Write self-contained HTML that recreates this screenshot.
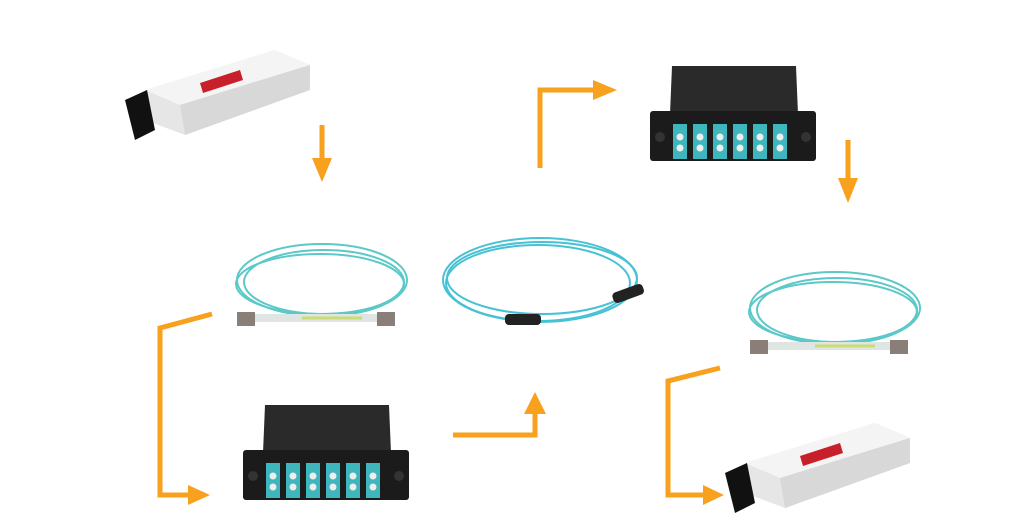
<!DOCTYPE html>
<html><head><style>html,body{margin:0;padding:0;background:#fff;width:1024px;height:530px;overflow:hidden}</style></head>
<body>
<svg width="1024" height="530" viewBox="0 0 1024 530" xmlns="http://www.w3.org/2000/svg">
<defs>
<g id="cas">
  <polygon points="22,0 146,0 148,48 20,48" fill="#2a2a2a"/>
  <rect x="0" y="45" width="166" height="50" rx="3" fill="#1b1b1b"/>
  <circle cx="10" cy="71" r="5" fill="#333"/>
  <circle cx="156" cy="71" r="5" fill="#333"/>
  <g fill="#3fb5bd">
    <rect x="23" y="58" width="14" height="35"/><rect x="43" y="58" width="14" height="35"/>
    <rect x="63" y="58" width="14" height="35"/><rect x="83" y="58" width="14" height="35"/>
    <rect x="103" y="58" width="14" height="35"/><rect x="123" y="58" width="14" height="35"/>
  </g>
  <g fill="#eee">
    <circle cx="30" cy="71" r="3.5"/><circle cx="30" cy="82" r="3.5"/>
    <circle cx="50" cy="71" r="3.5"/><circle cx="50" cy="82" r="3.5"/>
    <circle cx="70" cy="71" r="3.5"/><circle cx="70" cy="82" r="3.5"/>
    <circle cx="90" cy="71" r="3.5"/><circle cx="90" cy="82" r="3.5"/>
    <circle cx="110" cy="71" r="3.5"/><circle cx="110" cy="82" r="3.5"/>
    <circle cx="130" cy="71" r="3.5"/><circle cx="130" cy="82" r="3.5"/>
  </g>
</g>
<g id="sfp">
  <polygon points="20,45 150,5 185,20 185,45 60,90 20,75" fill="#e6e6e6"/>
  <polygon points="20,45 150,5 185,20 55,60" fill="#f4f4f4"/>
  <polygon points="75,38 115,25 118,35 78,48" fill="#c8202a"/>
  <polygon points="0,55 22,45 30,85 10,95" fill="#111"/>
  <polygon points="55,60 185,20 185,45 60,90" fill="#d8d8d8"/>
</g>
<g id="coil" fill="none" stroke="#5cc8c8" stroke-width="2">
  <ellipse cx="90" cy="40" rx="85" ry="36"/>
  <ellipse cx="92" cy="42" rx="80" ry="32"/>
  <ellipse cx="88" cy="44" rx="84" ry="30"/>
  <path d="M20 78 L160 78" stroke="#dfe5e3" stroke-width="8"/>
  <path d="M70 78 L130 78" stroke="#c9dd72" stroke-width="3"/>
  <rect x="5" y="72" width="18" height="14" fill="#8a7f78" stroke="none"/>
  <rect x="145" y="72" width="18" height="14" fill="#8a7f78" stroke="none"/>
</g>
</defs>

<use href="#sfp" x="125" y="45"/>
<use href="#sfp" x="725" y="418"/>
<use href="#cas" x="243" y="405"/>
<use href="#cas" x="650" y="66"/>
<use href="#coil" x="232" y="240"/>
<use href="#coil" x="745" y="268"/>

<g fill="none" stroke="#47c2d4" stroke-width="2">
  <ellipse cx="540" cy="280" rx="97" ry="42"/>
  <ellipse cx="538" cy="283" rx="92" ry="38"/>
  <ellipse cx="542" cy="278" rx="95" ry="36"/>
</g>
<rect x="505" y="314" width="36" height="11" rx="4" fill="#222"/>
<rect x="612" y="288" width="32" height="11" rx="4" fill="#222" transform="rotate(-20 628 293)"/>

<g stroke="#f7a11e" stroke-width="5" fill="none">
  <path d="M322 125 V160"/>
  <path d="M212 314 L160 328 V495 H190"/>
  <path d="M453 435 H535 V410"/>
  <path d="M540 168 V90 H595"/>
  <path d="M848 140 V180"/>
  <path d="M720 368 L668 381 V495 H705"/>
</g>
<g fill="#f7a11e">
  <polygon points="312,158 332,158 322,182"/>
  <polygon points="188,485 188,505 210,495"/>
  <polygon points="524,414 546,414 535,392"/>
  <polygon points="593,80 593,100 617,90"/>
  <polygon points="838,178 858,178 848,203"/>
  <polygon points="703,485 703,505 724,495"/>
</g>
</svg>
</body></html>
